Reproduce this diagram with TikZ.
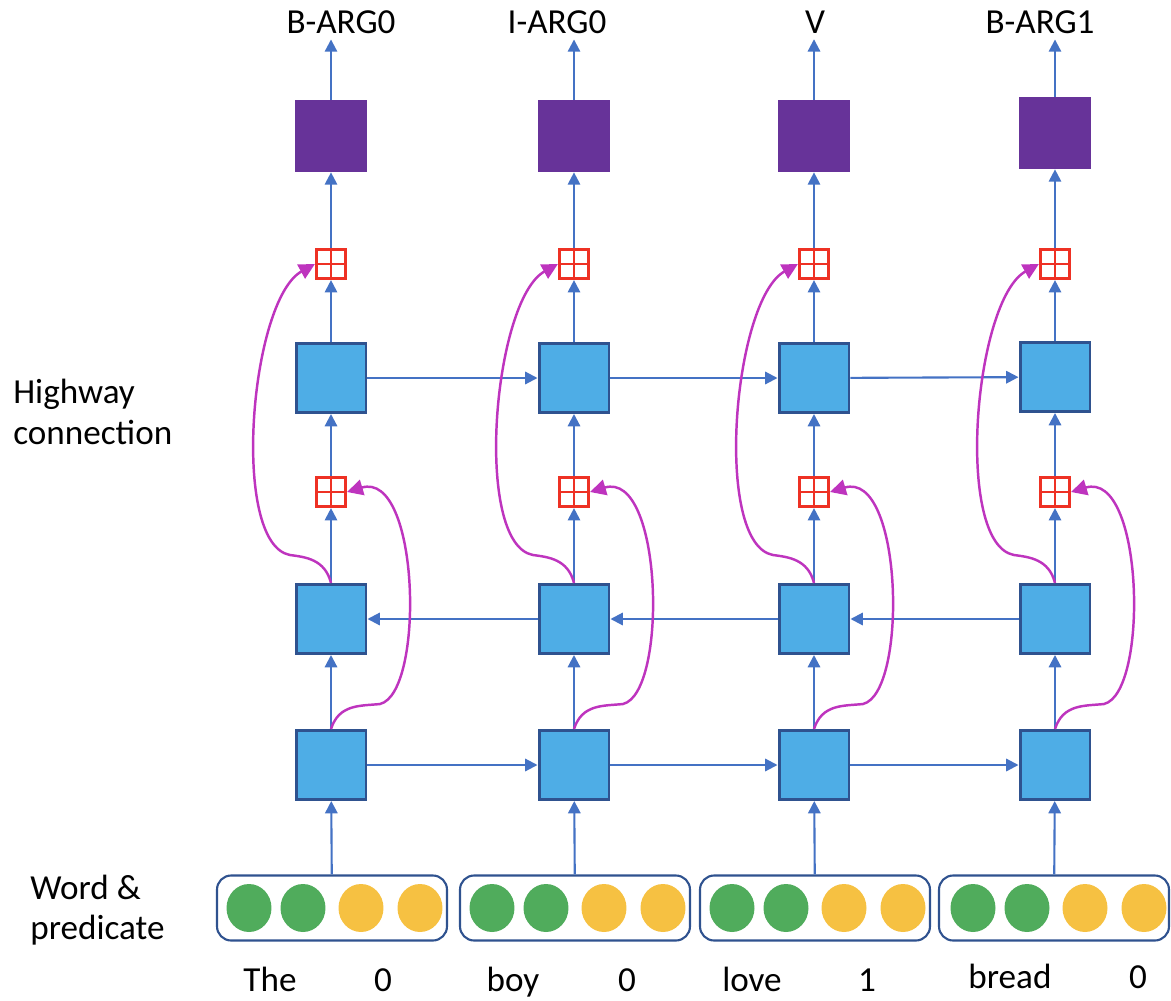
\documentclass[tikz,border=0pt]{standalone}
\usepackage{fontspec}
\setmainfont{Carlito}
\usetikzlibrary{arrows.meta,shapes.geometric}
\definecolor{cellblue}{HTML}{4EADE6}
\definecolor{cellborder}{HTML}{2F528F}
\definecolor{edgeblue}{HTML}{4472C4}
\definecolor{outpurple}{HTML}{673399}
\definecolor{plusred}{HTML}{EE3124}
\definecolor{highwaypink}{HTML}{BE34BE}
\definecolor{wordgreen}{HTML}{50AC5C}
\definecolor{predyellow}{HTML}{F6C142}
\begin{document}
\begin{tikzpicture}[x=0.02cm,y=-0.02cm,font=\fontsize{20}{23}\selectfont]
        \tikzstyle{cell}=[rectangle,draw=cellborder,fill=cellblue,line width=1.7pt,minimum width=1.4cm,minimum height=1.38cm,inner sep=0pt]
        \tikzstyle{outcell}=[rectangle,fill=outpurple,minimum size=1.44cm,inner sep=0pt]
        \tikzstyle{plusbox}=[rectangle,draw=plusred,fill=white,line width=1.8pt,minimum size=0.58cm,inner sep=0pt,
          path picture={\draw[plusred,line width=1.6pt] (path picture bounding box.north) -- (path picture bounding box.south)
            (path picture bounding box.west) -- (path picture bounding box.east);}]
        \tikzstyle{inputbox}=[rectangle,rounded corners=8pt,draw=cellborder,line width=1.2pt,minimum width=4.6cm,minimum height=1.3cm]
        \tikzstyle{gdot}=[ellipse,fill=wordgreen,minimum width=0.9cm,minimum height=0.96cm,inner sep=0pt]
        \tikzstyle{ydot}=[ellipse,fill=predyellow,minimum width=0.9cm,minimum height=0.96cm,inner sep=0pt]
        \tikzstyle{tag}=[anchor=base]
        \tikzstyle{word}=[anchor=base]
        \tikzstyle{edge}=[draw,edgeblue,line width=1.2pt,-{Triangle[width=7pt,length=7pt]}]
        \tikzstyle{highway}=[draw,highwaypink,line width=1.4pt,-{Triangle[width=9pt,length=9pt]}]
        \useasboundingbox (0,0) rectangle (1171,1001);
       % side labels
         \node [anchor=west,align=left,inner sep=0pt] (hw) at (13,412) {Highway\\connection};
         \node [anchor=west,align=left,inner sep=0pt] (wp) at (30,910) {Word \&\\predicate};
       % column: The
         \node [tag] (la) at (341,33) {B-ARG0};
         \node [outcell] (oa) at (331,136) {};
         \node [plusbox] (qa) at (331,264) {};
         \node [cell] (ta) at (331,378) {};
         \node [plusbox] (pa) at (331,492) {};
         \node [cell] (ma) at (331,619) {};
         \node [cell] (ba) at (331,765) {};
         \node [inputbox] (ia) at (332,908) {};
         \node [gdot] (ia1) at (249,908) {};
         \node [gdot] (ia2) at (303,908) {};
         \node [ydot] (ia3) at (361,908) {};
         \node [ydot] (ia4) at (420,908) {};
         \node [word] (wa1) at (270,991) {The};
         \node [word] (wa2) at (383,991) {0};
       % column: boy
         \node [tag] (lb) at (557,33) {I-ARG0};
         \node [outcell] (ob) at (574,136) {};
         \node [plusbox] (qb) at (574,264) {};
         \node [cell] (tb) at (574,378) {};
         \node [plusbox] (pb) at (574,492) {};
         \node [cell] (mb) at (574,619) {};
         \node [cell] (bb) at (574,765) {};
         \node [inputbox] (ib) at (575,908) {};
         \node [gdot] (ib1) at (492,908) {};
         \node [gdot] (ib2) at (546,908) {};
         \node [ydot] (ib3) at (604,908) {};
         \node [ydot] (ib4) at (663,908) {};
         \node [word] (wb1) at (513,991) {boy};
         \node [word] (wb2) at (627,991) {0};
       % column: love
         \node [tag] (lc) at (815,33) {V};
         \node [outcell] (oc) at (814,136) {};
         \node [plusbox] (qc) at (814,264) {};
         \node [cell] (tc) at (814,378) {};
         \node [plusbox] (pc) at (814,492) {};
         \node [cell] (mc) at (814,619) {};
         \node [cell] (bc) at (814,765) {};
         \node [inputbox] (ic) at (815,908) {};
         \node [gdot] (ic1) at (732,908) {};
         \node [gdot] (ic2) at (786,908) {};
         \node [ydot] (ic3) at (844,908) {};
         \node [ydot] (ic4) at (903,908) {};
         \node [word] (wc1) at (752,991) {love};
         \node [word] (wc2) at (867,991) {1};
       % column: bread
         \node [tag] (ld) at (1040,33) {B-ARG1};
         \node [outcell] (od) at (1055,133) {};
         \node [plusbox] (qd) at (1055,264) {};
         \node [cell] (td) at (1055,377) {};
         \node [plusbox] (pd) at (1055,492) {};
         \node [cell] (md) at (1055,619) {};
         \node [cell] (bd) at (1055,765) {};
         \node [inputbox] (id) at (1054,908) {};
         \node [gdot] (id1) at (973,908) {};
         \node [gdot] (id2) at (1027,908) {};
         \node [ydot] (id3) at (1085,908) {};
         \node [ydot] (id4) at (1144,908) {};
         \node [word] (wd1) at (1010,988) {bread};
         \node [word] (wd2) at (1138,988) {0};
       % vertical flow
         \path[edge] (ia) edge (ba) (ba) edge (ma) (ma) edge (pa) (pa) edge (ta) (ta) edge (qa) (qa) edge (oa) (oa) edge (oa |- la.south);
         \path[edge] (ib) edge (bb) (bb) edge (mb) (mb) edge (pb) (pb) edge (tb) (tb) edge (qb) (qb) edge (ob) (ob) edge (ob |- lb.south);
         \path[edge] (ic) edge (bc) (bc) edge (mc) (mc) edge (pc) (pc) edge (tc) (tc) edge (qc) (qc) edge (oc) (oc) edge (oc |- lc.south);
         \path[edge] (id) edge (bd) (bd) edge (md) (md) edge (pd) (pd) edge (td) (td) edge (qd) (qd) edge (od) (od) edge (od |- ld.south);
       % recurrent rows
         \path[edge] (ba) edge (bb) (bb) edge (bc) (bc) edge (bd);
         \path[edge] (md) edge (mc) (mc) edge (mb) (mb) edge (ma);
         \path[edge] (ta) edge (tb) (tb) edge (tc) (tc) edge (td);
       % highway connections
         \draw[highway] (ba.north) .. controls +(8,-25) and +(-20,2) .. ++(49,-25) .. controls +(45,-11) and +(73,-22) .. (pa.east);
         \draw[highway] (bb.north) .. controls +(8,-25) and +(-20,2) .. ++(49,-25) .. controls +(45,-11) and +(73,-22) .. (pb.east);
         \draw[highway] (bc.north) .. controls +(8,-25) and +(-20,2) .. ++(49,-25) .. controls +(45,-11) and +(73,-22) .. (pc.east);
         \draw[highway] (bd.north) .. controls +(8,-25) and +(-20,2) .. ++(49,-25) .. controls +(45,-11) and +(73,-22) .. (pd.east);
         \draw[highway] (ma.north) .. controls +(-6,-24) and +(15,2) .. ++(-41,-28) .. controls +(-60,-11) and +(-65,36) .. (qa.west);
         \draw[highway] (mb.north) .. controls +(-6,-24) and +(15,2) .. ++(-41,-28) .. controls +(-60,-11) and +(-65,36) .. (qb.west);
         \draw[highway] (mc.north) .. controls +(-6,-24) and +(15,2) .. ++(-41,-28) .. controls +(-60,-11) and +(-65,36) .. (qc.west);
         \draw[highway] (md.north) .. controls +(-6,-24) and +(15,2) .. ++(-41,-28) .. controls +(-60,-11) and +(-65,36) .. (qd.west);
      \end{tikzpicture}
\end{document}
